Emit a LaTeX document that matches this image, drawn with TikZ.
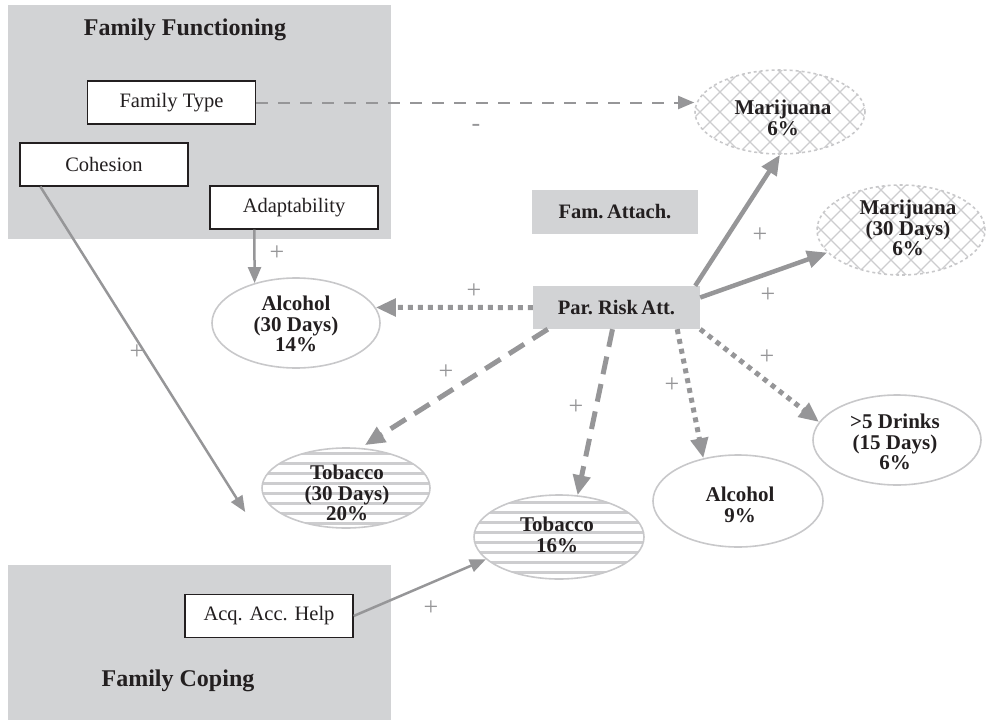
\documentclass[tikz,border=0pt]{standalone}
\usepackage{fontspec}
\setmainfont{Liberation Serif}
\usetikzlibrary{arrows.meta,shapes.geometric}
\definecolor{boxgrey}{RGB}{210,211,213}
\definecolor{arrowgrey}{RGB}{150,150,152}
\definecolor{ellgrey}{RGB}{200,200,202}
\definecolor{pattgrey}{RGB}{205,205,207}
\definecolor{ink}{RGB}{35,31,32}
\tikzset{
  grp/.style={fill=boxgrey, inner sep=0pt, anchor=north west},
  title/.style={font=\bfseries\fontsize{24}{24}\selectfont, text=ink, inner sep=0pt},
  wbox/.style={draw=ink, line width=1.3pt, fill=white, font=\fontsize{20.5}{22}\selectfont, text=ink, inner sep=0pt, minimum width=168pt, minimum height=43pt},
  gbox/.style={fill=boxgrey, font=\bfseries\fontsize{20.5}{22}\selectfont, text=ink, inner sep=0pt},
  ell/.style={ellipse, draw=ellgrey, line width=1.6pt, inner sep=0pt},
  etext/.style={font=\bfseries\fontsize{21}{20.5}\selectfont, align=center, text=ink, inner sep=0pt},
  plus/.style={text=arrowgrey, font=\fontsize{26}{26}\selectfont, inner sep=0pt},
  patt/.style={draw=pattgrey, line width=1.1pt},
  stripe/.style={draw=pattgrey, line width=3pt},
  thickarrow/.style={draw=arrowgrey, line width=4.5pt, -{Triangle[length=20pt,width=17pt]}},
  dotarrow/.style={draw=arrowgrey, line width=5pt, dash pattern=on 5pt off 5pt, -{Triangle[length=20pt,width=17pt]}},
  dasharrow/.style={draw=arrowgrey, line width=5pt, dash pattern=on 18pt off 10pt, -{Triangle[length=20pt,width=17pt]}},
  thinarrow/.style={draw=arrowgrey, line width=2.5pt, -{Triangle[length=16pt,width=13pt]}},
  ftarrow/.style={draw=arrowgrey, line width=2pt, dash pattern=on 12pt off 10pt, -{Triangle[length=16pt,width=13pt]}}
}
\begin{document}
\begin{tikzpicture}[x=1pt,y=-1pt]
\useasboundingbox (0,0) rectangle (989,720);
% group regions
\node[grp, minimum width=383pt, minimum height=234pt] (ff) at (8,5) {};
\node[grp, minimum width=383pt, minimum height=155pt] (fc) at (8,565) {};
\node[title] (fft) at (185,30) {Family Functioning};
\node[title] (fct) at (178,681) {Family Coping};
% white boxes
\node[wbox] (ftype) at (171.5,102.5) {Family Type};
\node[wbox] (coh) at (104,164.5) {Cohesion};
\node[wbox] (adapt) at (294,207.5) {Adaptability};
\node[wbox] (acq) at (269,616) {Acq. Acc. Help};
% grey boxes
\node[gbox, minimum width=166pt, minimum height=44pt] (fatt) at (615,212) {Fam.\,Attach.};
\node[gbox, minimum width=167pt, minimum height=43pt] (par) at (616.5,307.5) {Par.\ Risk\,Att.};
% patterns
\begin{scope}
\clip (780,112) ellipse [x radius=85pt, y radius=42pt];
\foreach \d in {-240,-220,...,240} {
  \draw[patt] (780+\d-120,112-120) -- (780+\d+120,112+120);
  \draw[patt] (780+\d-120,112+120) -- (780+\d+120,112-120);
}
\end{scope}
\begin{scope}
\clip (901,230) ellipse [x radius=84pt, y radius=45pt];
\foreach \d in {-240,-220,...,240} {
  \draw[patt] (901+\d-120,230-120) -- (901+\d+120,230+120);
  \draw[patt] (901+\d-120,230+120) -- (901+\d+120,230-120);
}
\end{scope}
\begin{scope}
\clip (346,488) ellipse [x radius=84pt, y radius=40pt];
\foreach \yy in {-45,-35,...,45} {
  \draw[stripe] (250,488+\yy) -- (440,488+\yy);
}
\end{scope}
\begin{scope}
\clip (559,537) ellipse [x radius=85pt, y radius=42pt];
\foreach \yy in {-45,-35,...,45} {
  \draw[stripe] (460,537+\yy) -- (650,537+\yy);
}
\end{scope}
% ellipses
\node[ell, dashed, minimum width=170pt, minimum height=84pt] (mj) at (780,112) {};
\node[ell, dashed, minimum width=168pt, minimum height=90pt] (mj30) at (901,230) {};
\node[ell, minimum width=168pt, minimum height=90pt] (alc30) at (296,323) {};
\node[ell, minimum width=168pt, minimum height=80pt] (tob30) at (346,488) {};
\node[ell, minimum width=170pt, minimum height=84pt] (tob16) at (559,537) {};
\node[ell, minimum width=170pt, minimum height=92pt] (alc9) at (738,501) {};
\node[ell, minimum width=168pt, minimum height=90pt] (drk) at (897,440) {};
% ellipse texts
\node[etext] (tmj) at (783,118) {Marijuana\\6\%};
\node[etext] (tmj30) at (908,228) {Marijuana\\(30 Days)\\6\%};
\node[etext] (talc30) at (296,324) {Alcohol\\(30 Days)\\14\%};
\node[etext] (ttob30) at (347,493) {Tobacco\\(30 Days)\\20\%};
\node[etext] (ttob16) at (557,535) {Tobacco\\16\%};
\node[etext] (talc9) at (740,505) {Alcohol\\9\%};
\node[etext] (tdrk) at (895,442) {>5 Drinks\\(15 Days)\\6\%};
% connectors
\draw[ftarrow] (ftype.east) -- (ftype.east -| mj.west);
\draw[thinarrow] ([xshift=21pt]coh.south west) -- ([xshift=-16pt,yshift=-24pt]tob30.west);
\draw[thinarrow] ([xshift=45pt]adapt.south west) -- (alc30.136);
\draw[thinarrow] (acq.east) -- (tob16.197);
\draw[thickarrow] ([xshift=-5pt]par.north east) -- (mj.south);
\draw[thickarrow] ([yshift=10pt]par.east) -- (mj30.197);
\draw[dotarrow] (par.west) -- (alc30.11);
\draw[dasharrow, shorten >=5pt] ([xshift=15pt]par.south west) -- (tob30.70);
\draw[dasharrow] ([xshift=-4pt]par.south) -- (tob16.66);
\draw[dotarrow] ([xshift=-23pt]par.south east) -- (alc9.129);
\draw[dotarrow] (par.south east) -- (drk.167);
% signs
\node[plus] (s1) at (476,128) {-};
\node[plus] (s2) at (277,253) {+};
\node[plus] (s3) at (474,291) {+};
\node[plus] (s4) at (137,352) {+};
\node[plus] (s5) at (760,235) {+};
\node[plus] (s6) at (768,295) {+};
\node[plus] (s7) at (446,372) {+};
\node[plus] (s8) at (576,407) {+};
\node[plus] (s9) at (672,385) {+};
\node[plus] (s10) at (767,357) {+};
\node[plus] (s11) at (431,608) {+};
\end{tikzpicture}
\end{document}
